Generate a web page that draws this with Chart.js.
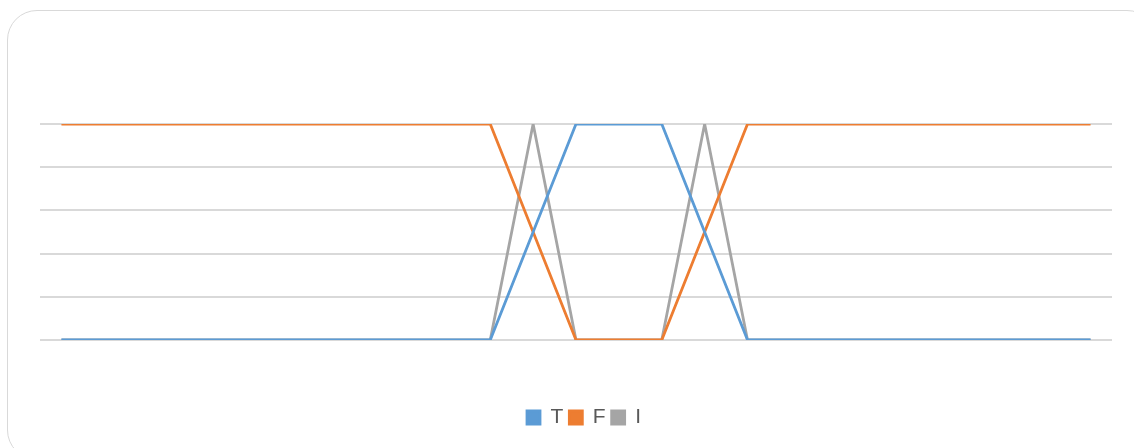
<!DOCTYPE html>
<html>
<head>
<meta charset="utf-8">
<script src="https://cdn.jsdelivr.net/npm/chart.js@4/dist/chart.umd.min.js"></script>
<style>
  html, body { margin: 0; padding: 0; background: #ffffff; overflow: hidden; }
  #wrap { position: relative; width: 1134px; height: 448px; }
  #frame {
    position: absolute; left: 7px; top: 10px; width: 1150px; height: 450px;
    border: 1.5px solid #d9d9d9; border-radius: 30px; box-sizing: border-box;
  }
  canvas { position: absolute; left: 0; top: 0; }
</style>
</head>
<body>
<div id="wrap">
  <div id="frame"></div>
  <canvas id="chart" width="1134" height="448"></canvas>
</div>
<script>
// 25 sample positions along the horizontal axis
const categories = Array.from({ length: 25 }, (_, i) => String(i + 1));

// membership values for each component
const seriesT = [0,0,0,0,0,0,0,0,0,0,0,0.5,1,1,1,0.5,0,0,0,0,0,0,0,0,0];
const seriesF = [1,1,1,1,1,1,1,1,1,1,1,0.5,0,0,0,0.5,1,1,1,1,1,1,1,1,1];
const seriesI = [0,0,0,0,0,0,0,0,0,0,0,1,0,0,0,1,0,0,0,0,0,0,0,0,0];

const yTicks = [0, 0.2, 0.4, 0.6, 0.8, 1];

const mk = (label, data, color) => ({
  label, data,
  borderColor: color, backgroundColor: color,
  borderWidth: 2.8, pointRadius: 0, tension: 0, fill: false
});

// nudges the centred legend row a few pixels to the right
const legendShift = {
  id: 'legendShift',
  afterLayout(chart) {
    const lg = chart.legend;
    if (lg) { lg.left += 8; lg.right += 8; }
  }
};

new Chart(document.getElementById('chart'), {
  type: 'line',
  data: {
    labels: categories,
    datasets: [
      mk('T', seriesT, '#5b9bd5'),
      mk('F', seriesF, '#ed7d31'),
      mk('I', seriesI, '#a5a5a5')
    ]
  },
  plugins: [legendShift],
  options: {
    responsive: false,
    animation: false,
    layout: { padding: { left: 40, right: 22, top: 124, bottom: 10 } },
    plugins: {
      tooltip: { enabled: false },
      legend: {
        position: 'bottom',
        title: { display: true, text: '', font: { size: 10, lineHeight: 1 }, padding: { top: 43, bottom: 0 } },
        labels: {
          boxWidth: 13, boxHeight: 13, padding: 6,
          color: '#595959',
          font: { family: "'Liberation Sans Narrow', 'Liberation Sans', sans-serif", size: 21 }
        }
      }
    },
    scales: {
      x: {
        offset: true,
        grid: { display: false },
        border: { display: false },
        ticks: { display: false }
      },
      y: {
        min: 0, max: 1,
        afterBuildTicks: (s) => { s.ticks = yTicks.map(v => ({ value: v })); },
        grid: { color: '#d9d9d9', lineWidth: 2, drawTicks: false },
        border: { display: false },
        ticks: { display: false }
      }
    }
  }
});
</script>
</body>
</html>
